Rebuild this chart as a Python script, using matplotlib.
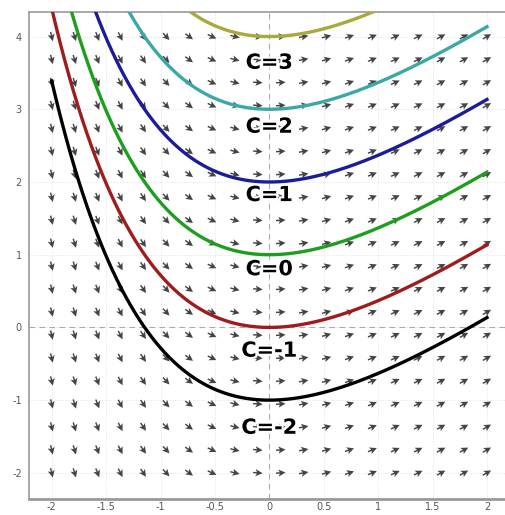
import numpy as np
import matplotlib.pyplot as plt
import matplotlib.patheffects as pe

# family of solutions y = x + exp(-x) + C, slope field dy/dx = 1 - exp(-x)
c_values = [-2, -1, 0, 1, 2, 3]
curve_colors = ['#000000', '#a01c1c', '#1e9e1e', '#1c1c9a', '#3aa9a6', '#a9a93c']
label_x = [0.0, 0.0, 0.0, 0.0, 0.0, 0.0]
label_y = [-1.38, -0.32, 0.8, 1.82, 2.76, 3.64]
x_ticks = [-2, -1.5, -1, -0.5, 0, 0.5, 1, 1.5, 2]
x_tick_labels = ['-2', '-1.5', '-1', '-0.5', '0', '0.5', '1', '1.5', '2']
y_ticks = [-2, -1, 0, 1, 2, 3, 4]
y_tick_labels = ['-2', '-1', '0', '1', '2', '3', '4']

fig = plt.figure(figsize=(5.06, 5.15), dpi=100)
ax = fig.add_axes([0.057, 0.031, 0.943, 0.946])
ax.set_xlim(-2.21, 2.175)
ax.set_ylim(-2.36, 4.34)

# slope field on a 20x20 grid
gx, gy = np.meshgrid(np.linspace(-2, 2, 20), np.linspace(-2, 4, 20))
slope = 1 - np.exp(-gx)
px_per_x = 108.75
px_per_y = 72.7
s_screen = slope * px_per_y / px_per_x
U = 1 / np.sqrt(1 + s_screen ** 2)
V = s_screen * U
ax.quiver(gx, gy, U, V, angles='uv', scale_units='inches', scale=10.5,
          pivot='middle', color='#444444', width=0.003,
          headwidth=5, headlength=5, headaxislength=4, zorder=2)

# faint grid and dashed axes
for xt in x_ticks:
    ax.axvline(xt, color='#dddddd', lw=0.6, ls=':', zorder=1)
for yt in y_ticks:
    ax.axhline(yt, color='#dddddd', lw=0.6, ls=':', zorder=1)
ax.axvline(0, color='#aaaaaa', lw=0.8, ls=(0, (5, 4)), zorder=1)
ax.axhline(0, color='#aaaaaa', lw=0.8, ls=(0, (5, 4)), zorder=1)

xs = np.linspace(-2, 2, 400)
for c, col in zip(c_values, curve_colors):
    ax.plot(xs, xs + np.exp(-xs) + c, color=col, lw=2.4, zorder=3)

for c, lx, ly in zip(c_values, label_x, label_y):
    ax.text(lx, ly, f'C={c}', fontsize=15, fontweight='bold', color='black',
            ha='center', va='center', zorder=4,
            path_effects=[pe.withStroke(linewidth=3, foreground='white')])

ax.set_xticks(x_ticks)
ax.set_xticklabels(x_tick_labels)
ax.set_yticks(y_ticks)
ax.set_yticklabels(y_tick_labels)
ax.tick_params(axis='x', length=0, labelsize=7, labelcolor='#555555', pad=2)
ax.tick_params(axis='y', length=0, labelsize=7, labelcolor='#555555', pad=5)
ax.spines['right'].set_visible(False)
for side in ['left', 'bottom', 'top']:
    ax.spines[side].set_color('#999999')
    ax.spines[side].set_linewidth(1.2)
ax.spines['bottom'].set_linewidth(2)

fig.savefig('out.png', dpi=100)
